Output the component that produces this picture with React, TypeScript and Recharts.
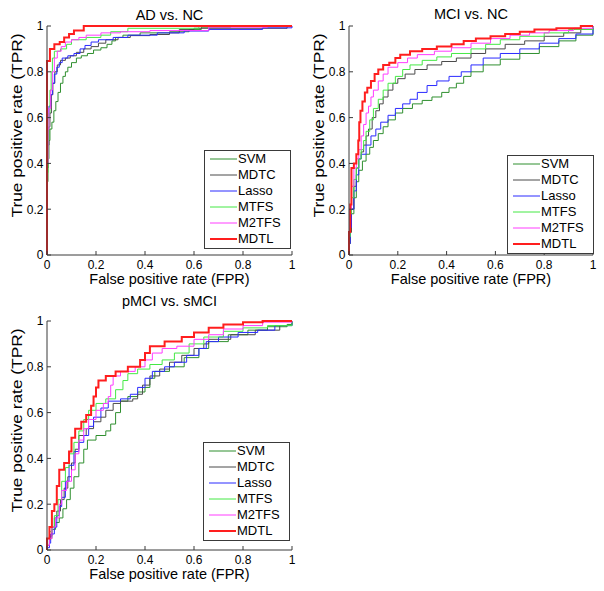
import { LineChart, Line, XAxis, YAxis, Legend, Label } from "recharts";

type Pt = [number, number];

const FONT = "'Liberation Sans', Arial, sans-serif";
const AXIS = "#3a3a3a";

const TICKS = [0, 0.2, 0.4, 0.6, 0.8, 1];
const TICK_LABELS = ["0", "0.2", "0.4", "0.6", "0.8", "1"];

const METHODS = ["SVM", "MDTC", "Lasso", "MTFS", "M2TFS", "MDTL"];
const COLORS = ["#2f8f2f", "#4a4a4a", "#2a2aff", "#45e845", "#ff3cff", "#ff1e1e"];
const WIDTHS = [1, 1, 1, 1, 1, 2];

// AD vs. NC  (fpr, tpr) where the curve steps up
const adSvm: Pt[] = [[0,0],[0,0.32],[0.004,0.42],[0.008,0.5],[0.012,0.55],[0.02,0.58],[0.028,0.63],[0.036,0.67],[0.045,0.71],[0.055,0.75],[0.065,0.78],[0.075,0.8],[0.085,0.82],[0.1,0.84],[0.12,0.86],[0.14,0.87],[0.165,0.88],[0.19,0.895],[0.22,0.905],[0.245,0.92],[0.265,0.935],[0.28,0.95],[0.31,0.96],[0.38,0.97],[0.5,0.975],[0.58,0.985],[0.63,0.995],[0.75,1],[1,1]];
const adMdtc: Pt[] = [[0,0],[0,0.38],[0.004,0.48],[0.008,0.56],[0.012,0.62],[0.018,0.7],[0.024,0.75],[0.032,0.8],[0.042,0.83],[0.055,0.85],[0.075,0.86],[0.095,0.87],[0.12,0.885],[0.15,0.9],[0.18,0.91],[0.21,0.925],[0.24,0.94],[0.29,0.95],[0.34,0.958],[0.42,0.963],[0.5,0.97],[0.54,0.985],[0.6,0.99],[0.98,1],[1,1]];
const adLasso: Pt[] = [[0,0],[0,0.48],[0.003,0.6],[0.008,0.65],[0.015,0.7],[0.022,0.75],[0.03,0.79],[0.04,0.82],[0.05,0.84],[0.062,0.86],[0.085,0.87],[0.11,0.88],[0.135,0.9],[0.155,0.915],[0.18,0.93],[0.21,0.94],[0.27,0.95],[0.33,0.96],[0.45,0.97],[0.56,0.978],[0.66,0.985],[0.88,0.992],[1,1]];
const adMtfs: Pt[] = [[0,0],[0,0.36],[0.004,0.5],[0.008,0.62],[0.012,0.72],[0.017,0.8],[0.022,0.86],[0.03,0.89],[0.055,0.9],[0.08,0.92],[0.1,0.94],[0.16,0.95],[0.22,0.96],[0.26,0.975],[0.33,0.99],[0.62,1],[1,1]];
const adM2tfs: Pt[] = [[0,0],[0,0.4],[0.004,0.55],[0.008,0.64],[0.015,0.72],[0.022,0.8],[0.03,0.86],[0.042,0.89],[0.058,0.91],[0.075,0.93],[0.1,0.94],[0.13,0.95],[0.16,0.96],[0.22,0.97],[0.3,0.975],[0.42,0.98],[0.66,0.995],[0.9,1],[1,1]];
const adMdtl: Pt[] = [[0,0],[0,0.847],[0.012,0.9],[0.03,0.92],[0.052,0.93],[0.07,0.95],[0.09,0.965],[0.11,0.98],[0.15,1],[1,1]];

// MCI vs. NC
const mciSvm: Pt[] = [[0,0],[0,0.05],[0.005,0.1],[0.01,0.18],[0.02,0.25],[0.03,0.32],[0.04,0.37],[0.055,0.41],[0.07,0.44],[0.085,0.47],[0.1,0.5],[0.12,0.53],[0.14,0.56],[0.16,0.59],[0.19,0.62],[0.22,0.64],[0.26,0.66],[0.3,0.675],[0.34,0.69],[0.38,0.71],[0.41,0.73],[0.44,0.75],[0.47,0.78],[0.5,0.8],[0.55,0.83],[0.62,0.855],[0.7,0.88],[0.78,0.91],[0.86,0.935],[0.93,0.96],[1,1]];
const mciMdtc: Pt[] = [[0,0],[0,0.05],[0.005,0.1],[0.01,0.2],[0.02,0.3],[0.03,0.38],[0.04,0.42],[0.05,0.45],[0.06,0.48],[0.07,0.52],[0.08,0.55],[0.095,0.6],[0.11,0.63],[0.125,0.66],[0.14,0.69],[0.16,0.72],[0.18,0.75],[0.2,0.77],[0.23,0.79],[0.27,0.81],[0.32,0.83],[0.38,0.845],[0.44,0.86],[0.5,0.88],[0.56,0.9],[0.64,0.92],[0.72,0.935],[0.8,0.955],[0.88,0.97],[0.95,0.985],[1,1]];
const mciLasso: Pt[] = [[0,0],[0,0.05],[0.005,0.12],[0.01,0.2],[0.02,0.28],[0.03,0.35],[0.04,0.42],[0.05,0.44],[0.07,0.48],[0.09,0.52],[0.11,0.55],[0.13,0.58],[0.16,0.61],[0.19,0.64],[0.22,0.66],[0.25,0.68],[0.28,0.71],[0.32,0.74],[0.36,0.76],[0.41,0.78],[0.46,0.8],[0.5,0.83],[0.55,0.86],[0.62,0.88],[0.7,0.9],[0.78,0.925],[0.86,0.945],[0.93,0.965],[1,1]];
const mciMtfs: Pt[] = [[0,0],[0,0.08],[0.005,0.18],[0.01,0.25],[0.02,0.33],[0.03,0.38],[0.04,0.42],[0.05,0.46],[0.06,0.5],[0.07,0.54],[0.085,0.59],[0.1,0.64],[0.12,0.68],[0.14,0.72],[0.16,0.75],[0.19,0.78],[0.22,0.81],[0.25,0.83],[0.3,0.85],[0.36,0.865],[0.42,0.88],[0.5,0.9],[0.56,0.92],[0.62,0.94],[0.7,0.955],[0.8,0.97],[0.9,0.985],[1,1]];
const mciM2tfs: Pt[] = [[0,0],[0,0.1],[0.005,0.2],[0.01,0.3],[0.02,0.38],[0.03,0.42],[0.04,0.46],[0.05,0.52],[0.06,0.57],[0.07,0.62],[0.08,0.65],[0.09,0.69],[0.1,0.72],[0.12,0.76],[0.14,0.79],[0.16,0.82],[0.2,0.84],[0.24,0.86],[0.28,0.875],[0.35,0.89],[0.42,0.905],[0.5,0.925],[0.58,0.945],[0.66,0.96],[0.74,0.97],[0.82,0.98],[0.92,0.99],[1,1]];
const mciMdtl: Pt[] = [[0,0],[0,0.1],[0.005,0.22],[0.01,0.38],[0.02,0.4],[0.03,0.44],[0.038,0.5],[0.042,0.58],[0.047,0.63],[0.055,0.67],[0.065,0.71],[0.075,0.73],[0.09,0.76],[0.105,0.79],[0.12,0.81],[0.14,0.83],[0.165,0.84],[0.19,0.86],[0.21,0.875],[0.25,0.89],[0.3,0.9],[0.36,0.91],[0.42,0.92],[0.47,0.935],[0.52,0.945],[0.58,0.955],[0.64,0.965],[0.7,0.975],[0.76,0.985],[0.85,0.99],[0.95,1],[1,1]];

// pMCI vs. sMCI
const pmciSvm: Pt[] = [[0,0],[0,0.02],[0.01,0.05],[0.02,0.09],[0.035,0.12],[0.05,0.14],[0.065,0.18],[0.08,0.22],[0.095,0.27],[0.11,0.32],[0.13,0.38],[0.15,0.44],[0.165,0.48],[0.2,0.5],[0.24,0.52],[0.26,0.55],[0.28,0.6],[0.3,0.65],[0.33,0.67],[0.37,0.69],[0.4,0.71],[0.42,0.75],[0.44,0.78],[0.5,0.8],[0.56,0.84],[0.62,0.88],[0.66,0.91],[0.74,0.94],[0.82,0.96],[0.9,0.975],[0.98,0.985],[1,1]];
const pmciMdtc: Pt[] = [[0,0],[0,0.02],[0.01,0.06],[0.02,0.1],[0.03,0.14],[0.04,0.17],[0.055,0.22],[0.07,0.27],[0.085,0.32],[0.1,0.38],[0.115,0.44],[0.13,0.5],[0.16,0.53],[0.19,0.56],[0.22,0.58],[0.24,0.61],[0.27,0.64],[0.3,0.65],[0.35,0.66],[0.37,0.68],[0.39,0.72],[0.42,0.76],[0.46,0.79],[0.5,0.82],[0.55,0.85],[0.6,0.88],[0.64,0.9],[0.66,0.92],[0.75,0.94],[0.85,0.96],[0.95,0.98],[1,1]];
const pmciLasso: Pt[] = [[0,0],[0,0.01],[0.01,0.03],[0.015,0.07],[0.03,0.1],[0.04,0.15],[0.05,0.19],[0.06,0.23],[0.075,0.3],[0.09,0.37],[0.11,0.43],[0.13,0.47],[0.15,0.5],[0.17,0.54],[0.19,0.58],[0.22,0.62],[0.25,0.65],[0.3,0.66],[0.34,0.68],[0.37,0.71],[0.4,0.75],[0.43,0.78],[0.48,0.8],[0.52,0.82],[0.57,0.85],[0.62,0.88],[0.65,0.91],[0.7,0.93],[0.78,0.95],[0.86,0.96],[0.93,0.98],[1,1]];
const pmciMtfs: Pt[] = [[0,0],[0,0.05],[0.01,0.08],[0.02,0.1],[0.03,0.15],[0.045,0.22],[0.06,0.3],[0.075,0.36],[0.09,0.42],[0.11,0.47],[0.13,0.52],[0.15,0.57],[0.17,0.61],[0.2,0.64],[0.24,0.66],[0.28,0.7],[0.31,0.74],[0.33,0.77],[0.37,0.79],[0.42,0.81],[0.47,0.83],[0.52,0.86],[0.58,0.9],[0.64,0.93],[0.72,0.955],[0.8,0.97],[0.9,0.98],[1,1]];
const pmciM2tfs: Pt[] = [[0,0],[0,0.02],[0.01,0.05],[0.02,0.1],[0.035,0.14],[0.05,0.2],[0.06,0.26],[0.08,0.3],[0.1,0.35],[0.115,0.42],[0.13,0.48],[0.15,0.53],[0.17,0.57],[0.2,0.61],[0.23,0.64],[0.25,0.67],[0.26,0.72],[0.27,0.76],[0.3,0.78],[0.36,0.8],[0.4,0.83],[0.43,0.86],[0.47,0.88],[0.53,0.89],[0.6,0.92],[0.66,0.94],[0.72,0.965],[0.8,0.98],[0.88,0.995],[1,1]];
const pmciMdtl: Pt[] = [[0,0],[0,0.05],[0.01,0.1],[0.02,0.17],[0.03,0.2],[0.04,0.28],[0.05,0.35],[0.07,0.38],[0.09,0.43],[0.1,0.49],[0.115,0.53],[0.14,0.56],[0.16,0.59],[0.18,0.63],[0.19,0.67],[0.2,0.71],[0.21,0.74],[0.24,0.76],[0.28,0.78],[0.33,0.8],[0.38,0.83],[0.4,0.86],[0.42,0.89],[0.48,0.91],[0.55,0.93],[0.6,0.95],[0.66,0.97],[0.72,0.985],[0.8,0.995],[0.88,1],[1,1]];

const toRows = (pts: Pt[]) => pts.map(([x, y]) => ({ x, y }));

const XTick = (p: any) => (
  <text x={p.x} y={p.y + 13.5} textAnchor="middle" fontSize={12} fontFamily={FONT} fill="#000">
    {TICK_LABELS[TICKS.indexOf(p.payload.value)]}
  </text>
);

const YTick = (p: any) => (
  <text x={p.x - 3.5} y={p.y + 4.3} textAnchor="end" fontSize={12} fontFamily={FONT} fill="#000">
    {TICK_LABELS[TICKS.indexOf(p.payload.value)]}
  </text>
);

// legend keeps the plotting order (recharts sorts its payload by name)
function LegendBox() {
  return (
    <div
      style={{
        boxSizing: "border-box",
        width: 87,
        height: 99,
        border: `1px solid ${AXIS}`,
        background: "#fff",
      }}
    >
      {METHODS.map((m, i) => (
        <div key={m} style={{ display: "flex", alignItems: "center", height: 16 }}>
          <svg width={33} height={16} style={{ display: "block" }}>
            <line x1={5} x2={32} y1={8} y2={8} stroke={COLORS[i]} strokeWidth={WIDTHS[i]} />
          </svg>
          <span style={{ fontSize: 13, fontFamily: FONT, color: "#000", lineHeight: "16px" }}>{m}</span>
        </div>
      ))}
    </div>
  );
}

type PanelProps = {
  title: string;
  curves: Pt[][];
  left: number;
  top: number;
  width: number;
  padTop: number;
  titleGap: number;
  legendLeft: number;
  legendTop: number;
};

// plot box is always 229px tall, padTop px below the panel's top edge
function RocPanel({ title, curves, left, top, width, padTop, titleGap, legendLeft, legendTop }: PanelProps) {
  const plotW = width - 47 - 8;
  return (
    <div style={{ position: "absolute", left, top }}>
      <LineChart width={width} height={padTop + 229 + 40} margin={{ top: padTop, right: 8, bottom: 0, left: 0 }}>
        <XAxis
          dataKey="x"
          type="number"
          domain={[0, 1]}
          ticks={TICKS}
          interval={0}
          height={40}
          tickSize={-4}
          tickMargin={4}
          stroke={AXIS}
          tick={XTick}
        >
          <Label
            content={({ viewBox }: any) => (
              <text
                x={viewBox.x + viewBox.width / 2}
                y={viewBox.y + 29}
                textAnchor="middle"
                fontSize={14.5}
                fontFamily={FONT}
                fill="#000"
              >
                False positive rate (FPR)
              </text>
            )}
          />
        </XAxis>
        <XAxis
          xAxisId="top"
          orientation="top"
          type="number"
          domain={[0, 1]}
          ticks={TICKS}
          interval={0}
          height={0}
          tickSize={-4}
          tick={false}
          stroke={AXIS}
        />
        <YAxis
          type="number"
          domain={[0, 1]}
          ticks={TICKS}
          interval={0}
          width={47}
          tickSize={-4}
          tickMargin={4}
          stroke={AXIS}
          tick={YTick}
        >
          <Label
            content={({ viewBox }: any) => {
              const cx = viewBox.x + 16;
              const cy = viewBox.y + viewBox.height / 2 - 15;
              return (
                <g>
                  <text
                    x={viewBox.x + viewBox.width + plotW / 2}
                    y={viewBox.y - titleGap}
                    textAnchor="middle"
                    fontSize={14.5}
                    fontFamily={FONT}
                    fill="#000"
                  >
                    {title}
                  </text>
                  <text
                    transform={`translate(${cx},${cy}) rotate(-90)`}
                    textAnchor="middle"
                    dominantBaseline="central"
                    fontSize={15}
                    fontFamily={FONT}
                    fill="#000"
                    textLength={184}
                    lengthAdjust="spacingAndGlyphs"
                  >
                    True positive rate (TPR)
                  </text>
                </g>
              );
            }}
          />
        </YAxis>
        <YAxis
          yAxisId="right"
          orientation="right"
          type="number"
          domain={[0, 1]}
          ticks={TICKS}
          interval={0}
          width={0}
          tickSize={-4}
          tick={false}
          stroke={AXIS}
        />
        <Legend
          layout="vertical"
          align="center"
          verticalAlign="middle"
          content={LegendBox}
          wrapperStyle={{ left: legendLeft, top: legendTop, width: 87, height: 99 }}
        />
        {curves.map((pts, i) => (
          <Line
            key={METHODS[i]}
            name={METHODS[i]}
            data={toRows(pts)}
            dataKey="y"
            type="stepAfter"
            stroke={COLORS[i]}
            strokeWidth={WIDTHS[i]}
            dot={false}
            activeDot={false}
            isAnimationActive={false}
          />
        ))}
      </LineChart>
    </div>
  );
}

export default function App() {
  return (
    <div style={{ position: "absolute", left: 0, top: 0, width: 604, height: 591, background: "#fff" }}>
      <RocPanel
        title="AD vs. NC"
        curves={[adSvm, adMdtc, adLasso, adMtfs, adM2tfs, adMdtl]}
        left={0}
        top={0}
        width={300}
        padTop={26}
        titleGap={6}
        legendLeft={204}
        legendTop={150}
      />
      <RocPanel
        title="MCI vs. NC"
        curves={[mciSvm, mciMdtc, mciLasso, mciMtfs, mciM2tfs, mciMdtl]}
        left={302}
        top={0}
        width={299}
        padTop={26}
        titleGap={7}
        legendLeft={205}
        legendTop={155}
      />
      <RocPanel
        title="pMCI vs. sMCI"
        curves={[pmciSvm, pmciMdtc, pmciLasso, pmciMtfs, pmciM2tfs, pmciMdtl]}
        left={0}
        top={285}
        width={300}
        padTop={36}
        titleGap={15}
        legendLeft={203}
        legendTop={157}
      />
    </div>
  );
}
